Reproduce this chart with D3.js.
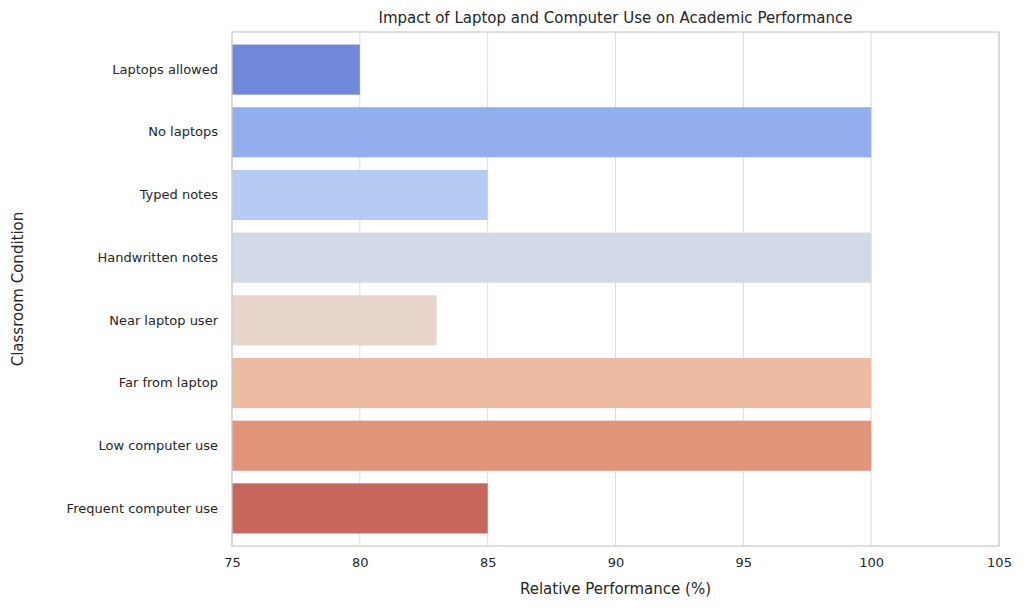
<!DOCTYPE html>
<html>
<head>
<meta charset="utf-8">
<script src="https://cdn.jsdelivr.net/npm/d3@7"></script>
<style>
body { margin: 0; background: #fff; }
text { font-family: "DejaVu Sans", sans-serif; fill: #262626; }
</style>
</head>
<body>
<svg width="1024" height="608"></svg>
<script>
const conditions = ['Laptops allowed', 'No laptops', 'Typed notes', 'Handwritten notes',
    'Near laptop user', 'Far from laptop', 'Low computer use', 'Frequent computer use'];
const performance = [80, 100, 85, 100, 83, 100, 100, 85];
const barColors = ['#7088d9', '#92aeef', '#b5cbf4', '#d2dae8', '#e7d4cb', '#edbba1', '#e1967c', '#c8675c'];
const xTicks = [75, 80, 85, 90, 95, 100, 105];

const svg = d3.select('svg');
const plotLeft = 232, plotRight = 999, plotTop = 32, plotBottom = 546;

const xScale = d3.scaleLinear().domain([75, 105]).range([plotLeft, plotRight]);
const yScale = d3.scaleBand().domain(conditions).range([plotTop, plotBottom]).padding(0.2);

// grid
svg.append('g').selectAll('line').data(xTicks).join('line')
    .attr('x1', d => xScale(d)).attr('x2', d => xScale(d))
    .attr('y1', plotTop).attr('y2', plotBottom)
    .attr('stroke', '#dddddd').attr('stroke-width', 1);

svg.append('g').selectAll('rect').data(conditions).join('rect')
    .attr('x', xScale(75))
    .attr('y', d => yScale(d))
    .attr('width', (d, i) => xScale(performance[i]) - xScale(75))
    .attr('height', yScale.bandwidth())
    .attr('fill', (d, i) => barColors[i]);

svg.append('rect')
    .attr('x', plotLeft).attr('y', plotTop).attr('width', plotRight - plotLeft).attr('height', plotBottom - plotTop)
    .attr('fill', 'none').attr('stroke', '#cccccc').attr('stroke-width', 1.25);

const xAxis = svg.append('g')
    .attr('transform', `translate(0, ${plotBottom})`)
    .call(d3.axisBottom(xScale).tickValues(xTicks).tickSize(0).tickPadding(12));
xAxis.select('.domain').remove();
xAxis.selectAll('text').attr('font-size', 13);

const yAxis = svg.append('g')
    .attr('transform', `translate(${plotLeft}, 0)`)
    .call(d3.axisLeft(yScale).tickSize(0).tickPadding(14));
yAxis.select('.domain').remove();
yAxis.selectAll('text').attr('font-size', 13);

svg.append('text').attr('x', (plotLeft + plotRight) / 2).attr('y', 23)
    .attr('text-anchor', 'middle').attr('font-size', 15)
    .text('Impact of Laptop and Computer Use on Academic Performance');

svg.append('text').attr('x', (plotLeft + plotRight) / 2).attr('y', 594)
    .attr('text-anchor', 'middle').attr('font-size', 15)
    .text('Relative Performance (%)');

svg.append('text')
    .attr('transform', `translate(23, ${(plotTop + plotBottom) / 2}) rotate(-90)`)
    .attr('text-anchor', 'middle').attr('font-size', 15)
    .text('Classroom Condition');
</script>
</body>
</html>
